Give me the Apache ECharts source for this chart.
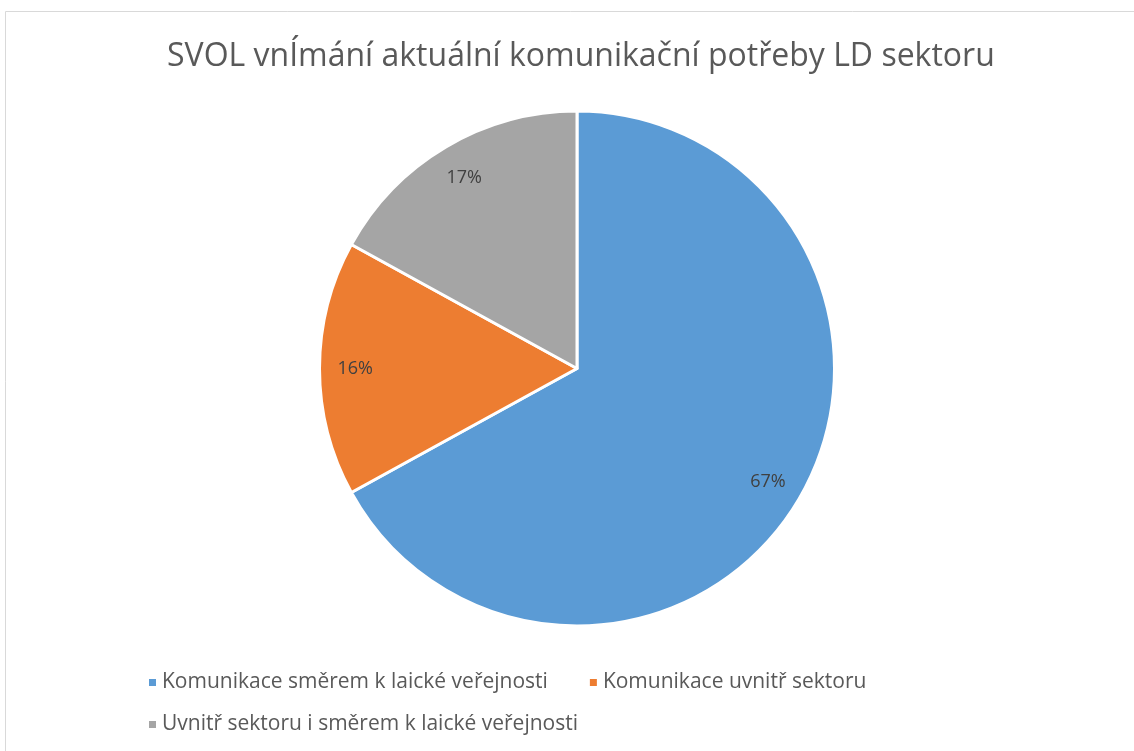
<!DOCTYPE html>
<html>
<head>
<meta charset="utf-8">
<script src="https://cdn.jsdelivr.net/npm/echarts@6/dist/echarts.min.js"></script>
<title>SVOL</title>
</head>
<body style="margin:0">
<div id="main" style="width:1134px; height:751px"></div>
<script type="text/javascript">
var titleText = 'SVOL vnÍmání aktuální komunikační potřeby LD sektoru';
var categories = ['Komunikace směrem k laické veřejnosti', 'Komunikace uvnitř sektoru', 'Uvnitř sektoru i směrem k laické veřejnosti'];
var values = [67, 16, 17];
var colors = ['#5B9BD5', '#ED7D31', '#A5A5A5'];

var pieData = [];
for (var i = 0; i < categories.length; i++) {
    pieData.push({ name: categories[i], value: values[i] });
}

var myChart = echarts.init(document.getElementById('main'));
myChart.setOption({
    color: colors,
    animation: false,
    title: {
        text: titleText,
        left: 162,
        top: 36,
        textStyle: { fontFamily: 'Open Sans', fontSize: 32, fontWeight: 'normal', color: '#595959' }
    },
    graphic: [{
        type: 'rect',
        shape: { x: 5.5, y: 11.5, width: 1200, height: 800 },
        style: { fill: 'none', stroke: '#d9d9d9', lineWidth: 1 },
        silent: true
    }],
    legend: [
        {
            data: [categories[0], categories[1]],
            left: 142, top: 667,
            icon: 'rect', itemWidth: 9, itemHeight: 9, itemGap: 40,
            textStyle: { fontFamily: 'Open Sans', fontSize: 21, color: '#595959' }
        },
        {
            data: [categories[2]],
            left: 142, top: 709,
            icon: 'rect', itemWidth: 9, itemHeight: 9,
            textStyle: { fontFamily: 'Open Sans', fontSize: 21, color: '#595959' }
        }
    ],
    series: [
        {
            type: 'pie',
            center: [577, 368.5],
            radius: 257.5,
            startAngle: 90,
            clockwise: true,
            silent: true,
            itemStyle: { borderColor: '#fff', borderWidth: 3 },
            label: { show: false },
            labelLine: { show: false },
            data: pieData
        },
        {
            // transparent ring only used to place labels near the rim
            type: 'pie',
            center: [577, 368.5],
            radius: [180, 257.5],
            startAngle: 90,
            clockwise: true,
            silent: true,
            itemStyle: { color: 'rgba(0,0,0,0)' },
            label: {
                show: true, position: 'inside',
                formatter: '{c}%',
                fontFamily: 'Open Sans', fontSize: 18, color: '#404040'
            },
            labelLine: { show: false },
            data: pieData
        }
    ]
});
</script>
</body>
</html>
